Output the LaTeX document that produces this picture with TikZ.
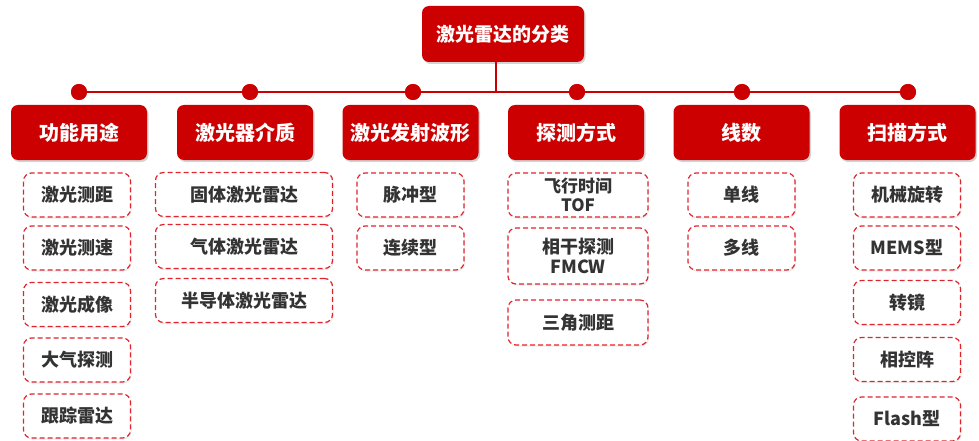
\documentclass[tikz,border=0pt]{standalone}
\usepackage{fontspec}
\setmainfont{Noto Sans CJK SC}
\usetikzlibrary{shadows}
\definecolor{lidarred}{HTML}{CC0000}
\definecolor{dashred}{HTML}{E0242C}
\definecolor{subtext}{HTML}{333333}
\tikzset{
  rootbox/.style={draw=none,fill=lidarred,rounded corners=7pt,minimum width=162pt,minimum height=56pt,inner sep=2pt,
    text=white,font=\fontsize{19}{22}\selectfont\bfseries,drop shadow={opacity=0.35,shadow xshift=1.5pt,shadow yshift=-2pt}},
  catbox/.style={rootbox,minimum width=136pt,minimum height=55pt,font=\fontsize{20}{22}\selectfont\bfseries},
  subbox/.style={draw=dashred,dashed,line width=1.2pt,dash pattern=on 5pt off 3pt,fill=white,rounded corners=8pt,
    minimum width=107pt,minimum height=44pt,inner sep=2pt,text=subtext,align=center,
    font=\fontsize{18}{20}\selectfont\bfseries,drop shadow={opacity=0.15,shadow xshift=1pt,shadow yshift=-1.5pt}},
  dot/.style={circle,fill=lidarred,inner sep=0pt,minimum size=16pt},
  trunk/.style={draw=lidarred,line width=2pt}
}
\begin{document}
\begin{tikzpicture}[x=1pt,y=-1pt]
\useasboundingbox (0,0) rectangle (979,441);
%root
\node[rootbox] (root) at (503,34) {激光雷达的分类};
\coordinate (stem) at (496,92);
%dots on the bar
\node[dot] (d1) at (79,92) {};
\node[dot] (d2) at (250,92) {};
\node[dot] (d3) at (413,92) {};
\node[dot] (d4) at (577,92) {};
\node[dot] (d5) at (742,92) {};
\node[dot] (d6) at (908,92) {};
\draw[trunk] (d1) -- (d6);
\draw[trunk] (stem |- root.south) -- (stem);
\foreach \d in {d1,d2,d3,d4,d5,d6} \node[dot] at (\d) {};
%categories
\node[catbox] (c1) at (79,132.5) {功能用途};
\node[catbox] (c2) at (245,132.5) {激光器介质};
\node[catbox] (c3) at (410.5,132.5) {激光发射波形};
\node[catbox] (c4) at (576,132.5) {探测方式};
\node[catbox] (c5) at (741.5,132.5) {线数};
\node[catbox] (c6) at (907.5,132.5) {扫描方式};
%column 1
\node[subbox] (s11) at (77,195) {激光测距};
\node[subbox] (s12) at (77,248) {激光测速};
\node[subbox] (s13) at (77,304.5) {激光成像};
\node[subbox] (s14) at (77,360) {大气探测};
\node[subbox] (s15) at (77,416) {跟踪雷达};
%column 2
\node[subbox,minimum width=177pt] (s21) at (244,194.5) {固体激光雷达};
\node[subbox,minimum width=177pt] (s22) at (244,246.5) {气体激光雷达};
\node[subbox,minimum width=177pt] (s23) at (244,300.5) {半导体激光雷达};
%column 3
\node[subbox] (s31) at (410.5,195) {脉冲型};
\node[subbox] (s32) at (410.5,248) {连续型};
%column 4
\node[subbox,minimum width=140pt,font=\fontsize{17}{19}\selectfont\bfseries] (s41) at (578,195) {飞行时间\\TOF};
\node[subbox,minimum width=140pt,minimum height=56pt] (s42) at (578,256) {相干探测\\FMCW};
\node[subbox,minimum width=140pt,minimum height=45pt] (s43) at (578,322.5) {三角测距};
%column 5
\node[subbox] (s51) at (741.5,195) {单线};
\node[subbox] (s52) at (741.5,248) {多线};
%column 6
\node[subbox] (s61) at (907,195) {机械旋转};
\node[subbox] (s62) at (907,248) {MEMS型};
\node[subbox] (s63) at (907,302.5) {转镜};
\node[subbox] (s64) at (907,359.5) {相控阵};
\node[subbox] (s65) at (907,419) {Flash型};
\end{tikzpicture}
\end{document}
